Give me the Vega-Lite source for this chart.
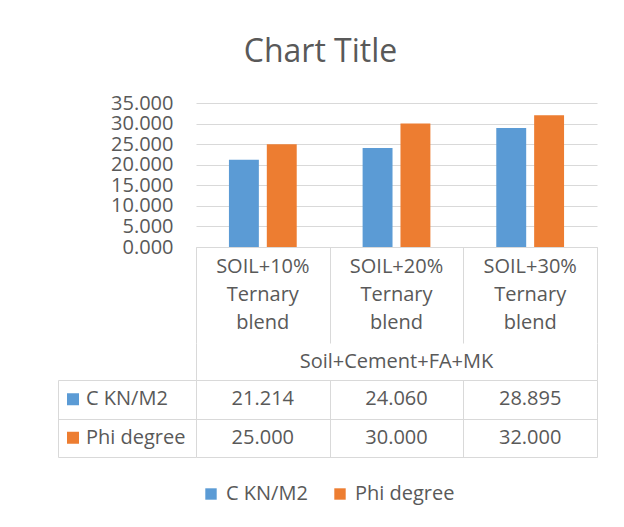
{
  "$schema": "https://vega.github.io/schema/vega-lite/v6.json",
  "background": "white",
  "padding": {"left": 58, "top": 36, "right": 10, "bottom": 10},
  "title": {"text": "Chart Title", "font": "Open Sans", "fontSize": 32, "fontWeight": "normal", "color": "#595959", "anchor": "middle", "baseline": "alphabetic", "offset": -1, "dx": -7},
  "data": {"values": [
    {"category": "SOIL+10% Ternary blend", "group": "Soil+Cement+FA+MK", "series": "C KN/M2", "value": 21.214},
    {"category": "SOIL+20% Ternary blend", "group": "Soil+Cement+FA+MK", "series": "C KN/M2", "value": 24.060},
    {"category": "SOIL+30% Ternary blend", "group": "Soil+Cement+FA+MK", "series": "C KN/M2", "value": 28.895},
    {"category": "SOIL+10% Ternary blend", "group": "Soil+Cement+FA+MK", "series": "Phi degree", "value": 25.000},
    {"category": "SOIL+20% Ternary blend", "group": "Soil+Cement+FA+MK", "series": "Phi degree", "value": 30.000},
    {"category": "SOIL+30% Ternary blend", "group": "Soil+Cement+FA+MK", "series": "Phi degree", "value": 32.000}
  ]},
  "columns": 2,
  "spacing": 0,
  "bounds": "flush",
  "align": "each",
  "resolve": {"scale": {"color": "shared"}},
  "concat": [
    {"width": 1, "height": 1, "data": {"values": []}, "mark": "point"},
    {
      "width": 401, "height": 144,
      "mark": {"type": "bar"},
      "encoding": {
        "x": {"field": "category", "type": "nominal", "scale": {"paddingInner": 0, "paddingOuter": 0}, "axis": null},
        "xOffset": {"field": "series", "type": "nominal", "scale": {"paddingInner": 0.21, "paddingOuter": 0.87}},
        "y": {"field": "value", "type": "quantitative", "scale": {"domain": [0, 35]},
          "axis": {"values": [0, 5, 10, 15, 20, 25, 30, 35], "format": ".3f", "title": null, "domain": false, "ticks": false, "grid": true, "labelFontSize": 20, "labelColor": "#595959", "labelPadding": 23, "labelOverlap": false, "labelFont": "Open Sans"}},
        "color": {"field": "series", "type": "nominal",
          "scale": {"domain": ["C KN/M2", "Phi degree"], "range": ["#5B9BD5", "#ED7D31"]},
          "legend": {"orient": "bottom", "direction": "horizontal", "title": null, "symbolType": "square", "symbolSize": 130, "symbolStrokeWidth": 0, "labelFontSize": 20, "labelColor": "#595959", "labelFont": "Open Sans", "columnPadding": 22, "labelOffset": 5, "offset": 27}}
      }
    },
    {"width": 1, "height": 1, "data": {"values": []}, "mark": "point"},
    {
      "width": 401, "height": 96,
      "transform": [{"aggregate": [{"op": "count", "as": "n"}], "groupby": ["category"]}],
      "mark": {"type": "text", "lineBreak": " ", "lineHeight": 28, "baseline": "middle", "dy": -28, "fontSize": 20, "font": "Open Sans", "color": "#595959"},
      "encoding": {
        "x": {"field": "category", "type": "nominal", "scale": {"paddingInner": 0, "paddingOuter": 0},
          "axis": {"orient": "top", "title": null, "labels": false, "ticks": false, "domain": true, "grid": true, "tickBand": "extent"}},
        "text": {"field": "category"}
      }
    },
    {"width": 1, "height": 1, "data": {"values": []}, "mark": "point"},
    {
      "width": 401, "height": 37,
      "transform": [{"aggregate": [{"op": "count", "as": "n"}], "groupby": ["group"]}],
      "mark": {"type": "text", "baseline": "middle", "fontSize": 20, "font": "Open Sans", "color": "#595959"},
      "encoding": {
        "x": {"field": "group", "type": "nominal", "scale": {"paddingInner": 0, "paddingOuter": 0},
          "axis": {"title": null, "labels": false, "ticks": false, "domain": false, "grid": true, "tickBand": "extent"}},
        "text": {"field": "group"}
      }
    },
    {
      "width": 138, "height": 77,
      "transform": [{"aggregate": [{"op": "count", "as": "n"}], "groupby": ["series"]}],
      "encoding": {
        "y": {"field": "series", "type": "nominal", "scale": {"domain": ["C KN/M2", "Phi degree"], "paddingInner": 0, "paddingOuter": 0},
          "axis": {"title": null, "labels": false, "ticks": false, "domain": true, "grid": true, "tickBand": "extent"}}
      },
      "layer": [
        {"mark": {"type": "point", "shape": "square", "filled": true, "size": 144, "opacity": 1},
         "encoding": {"x": {"value": 15}, "color": {"field": "series", "type": "nominal", "scale": {"domain": ["C KN/M2", "Phi degree"], "range": ["#5B9BD5", "#ED7D31"]}, "legend": null}}},
        {"mark": {"type": "text", "align": "left", "baseline": "middle", "fontSize": 20, "font": "Open Sans", "color": "#595959"},
         "encoding": {"x": {"value": 28}, "text": {"field": "series"}}}
      ]
    },
    {
      "width": 401, "height": 77,
      "mark": {"type": "text", "baseline": "middle", "fontSize": 20, "font": "Open Sans", "color": "#595959"},
      "encoding": {
        "x": {"field": "category", "type": "nominal", "scale": {"paddingInner": 0, "paddingOuter": 0},
          "axis": {"title": null, "labels": false, "ticks": false, "domain": false, "grid": true, "tickBand": "extent"}},
        "y": {"field": "series", "type": "nominal", "scale": {"domain": ["C KN/M2", "Phi degree"], "paddingInner": 0, "paddingOuter": 0},
          "axis": {"title": null, "labels": false, "ticks": false, "domain": false, "grid": true, "tickBand": "extent"}},
        "text": {"field": "value", "type": "quantitative", "format": ".3f"}
      }
    }
  ],
  "config": {
    "view": {"stroke": null},
    "font": "Open Sans",
    "axis": {"gridColor": "#D9D9D9", "domainColor": "#D9D9D9", "gridOpacity": 1},
    "legend": {"layout": {"bottom": {"anchor": "middle"}}}
  }
}
